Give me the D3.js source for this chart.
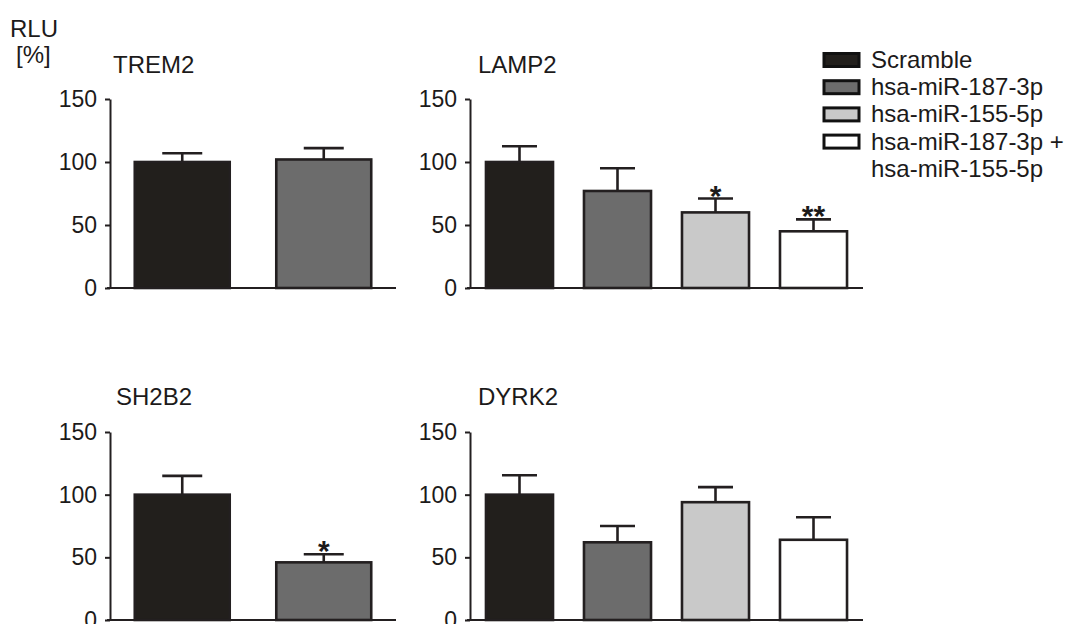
<!DOCTYPE html>
<html>
<head>
<meta charset="utf-8">
<script src="https://cdn.jsdelivr.net/npm/d3@7"></script>
<style>
  html, body { margin: 0; padding: 0; background: #fff; }
  svg { display: block; }
  text { font-family: "Liberation Sans", Arial, sans-serif; fill: #1c1a1a; }
</style>
</head>
<body>
<svg id="chart" width="1073" height="624"></svg>
<script>
// Treatment groups (legend order) and their fills
const groups = ["Scramble", "hsa-miR-187-3p", "hsa-miR-155-5p", "hsa-miR-187-3p + hsa-miR-155-5p"];
const groupFills = ["#221f1c", "#6c6c6c", "#c9c9c9", "#ffffff"];

// Relative luciferase units [%], mean and SEM per gene
const trem2Mean = [100, 102];
const trem2Sem  = [7, 9];
const trem2Sig  = ["", ""];

const lamp2Mean = [100, 77, 60, 45];
const lamp2Sem  = [12.5, 18, 11, 9.5];
const lamp2Sig  = ["", "", "*", "**"];

const sh2b2Mean = [100, 46];
const sh2b2Sem  = [15, 6.5];
const sh2b2Sig  = ["", "*"];

const dyrk2Mean = [100, 62, 94, 64];
const dyrk2Sem  = [15.5, 13, 12, 18];
const dyrk2Sig  = ["", "", "", ""];

const yTicks = [0, 50, 100, 150];

const svg = d3.select("#chart");
const ink = "#231f20";

function label(g, x, y, str, size, anchor) {
  return g.append("text")
    .attr("x", x).attr("y", y)
    .attr("text-anchor", anchor || "start")
    .style("font-size", size + "px")
    .text(str);
}

const panels = [
  { name: "TREM2", mean: trem2Mean, sem: trem2Sem, sig: trem2Sig, x: [110, 396], y: [288, 99], pi: 0.329, po: 0.175, titleDx: 3, titleY: 73 },
  { name: "LAMP2", mean: lamp2Mean, sem: lamp2Sem, sig: lamp2Sig, x: [470, 863], y: [288, 99], pi: 0.316, po: 0.163, titleDx: 8, titleY: 73 },
  { name: "SH2B2", mean: sh2b2Mean, sem: sh2b2Sem, sig: sh2b2Sig, x: [110, 396], y: [620, 432], pi: 0.329, po: 0.175, titleDx: 6, titleY: 405 },
  { name: "DYRK2", mean: dyrk2Mean, sem: dyrk2Sem, sig: dyrk2Sig, x: [470, 863], y: [620, 432], pi: 0.316, po: 0.163, titleDx: 8, titleY: 405 }
];

panels.forEach(p => {
  const g = svg.append("g");
  const idx = p.mean.map((_, i) => i);
  const x = d3.scaleBand().domain(idx).range(p.x).paddingInner(p.pi).paddingOuter(p.po);
  const y = d3.scaleLinear().domain([0, 150]).range(p.y);

  // error bars (upper whisker only)
  const capW = x.bandwidth() > 80 ? 40 : 35;
  const eb = g.selectAll(".err").data(idx).join("g");
  eb.append("line")
    .attr("x1", i => x(i) + x.bandwidth() / 2).attr("x2", i => x(i) + x.bandwidth() / 2)
    .attr("y1", i => y(p.mean[i])).attr("y2", i => y(p.mean[i] + p.sem[i]))
    .attr("stroke", ink).attr("stroke-width", 2.6);
  eb.append("line")
    .attr("x1", i => x(i) + x.bandwidth() / 2 - capW / 2).attr("x2", i => x(i) + x.bandwidth() / 2 + capW / 2)
    .attr("y1", i => y(p.mean[i] + p.sem[i])).attr("y2", i => y(p.mean[i] + p.sem[i]))
    .attr("stroke", ink).attr("stroke-width", 2.6);

  // bars
  g.selectAll(".bar").data(idx).join("rect")
    .attr("x", i => x(i)).attr("width", x.bandwidth())
    .attr("y", i => y(p.mean[i])).attr("height", i => y(0) - y(p.mean[i]))
    .attr("fill", i => groupFills[i])
    .attr("stroke", ink).attr("stroke-width", 2.6);

  // significance marks above the whisker caps
  g.selectAll(".sig").data(idx.filter(i => p.sig[i])).join("text")
    .attr("x", i => x(i) + x.bandwidth() / 2)
    .attr("y", i => y(p.mean[i] + p.sem[i]) + 7)
    .attr("text-anchor", "middle")
    .style("font-size", "30px").style("font-weight", "bold")
    .text(i => p.sig[i]);

  // y axis
  const ya = g.append("g").attr("transform", `translate(${p.x[0]},0)`)
    .call(d3.axisLeft(y).tickValues(yTicks).tickSize(5).tickSizeOuter(0).tickPadding(8));
  ya.select(".domain").attr("stroke", ink).attr("stroke-width", 2);
  ya.selectAll(".tick line").attr("stroke", ink).attr("stroke-width", 2);
  ya.selectAll(".tick text")
    .style("font-size", "23px").style("font-family", "'Liberation Sans', Arial, sans-serif")
    .attr("fill", "#1c1a1a");

  // x axis baseline
  g.append("line")
    .attr("x1", p.x[0] - 3).attr("x2", p.x[1])
    .attr("y1", y(0)).attr("y2", y(0))
    .attr("stroke", ink).attr("stroke-width", 2);

  // gene title
  label(g, p.x[0] + p.titleDx, p.titleY, p.name, 24);
});

// y-axis unit label
label(svg, 10, 37, "RLU", 24);
label(svg, 16, 63, "[%]", 24);

// legend
const legendRows = [
  { box: 0, text: groups[0] },
  { box: 1, text: groups[1] },
  { box: 2, text: groups[2] },
  { box: 3, text: "hsa-miR-187-3p +" },
  { box: null, text: "hsa-miR-155-5p" }
];
const lg = svg.append("g");
legendRows.forEach((r, k) => {
  const base = 68 + k * 27.2;
  if (r.box !== null) {
    lg.append("rect")
      .attr("x", 824).attr("y", base - 14.5)
      .attr("width", 35).attr("height", 13)
      .attr("fill", groupFills[r.box])
      .attr("stroke", "#111").attr("stroke-width", 3);
  }
  label(lg, 871, base, r.text, 24);
});
</script>
</body>
</html>
